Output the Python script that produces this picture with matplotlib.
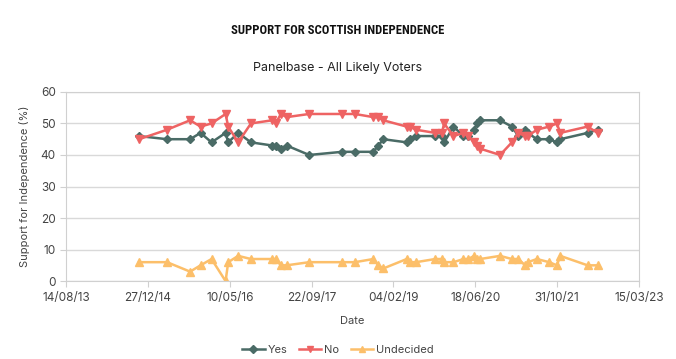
import matplotlib
matplotlib.use("Agg")
import matplotlib.pyplot as plt
import matplotlib.dates as mdates
import pandas as pd

# poll dates (fieldwork end)
dates = ["2014-11-02", "2015-04-22", "2015-09-10", "2015-11-13", "2016-01-19",
         "2016-04-14", "2016-04-30", "2016-06-30", "2016-09-16", "2017-01-24",
         "2017-02-14", "2017-03-18", "2017-04-22", "2017-09-07", "2018-03-28",
         "2018-06-14", "2018-10-04", "2018-11-04", "2018-12-04", "2019-04-26",
         "2019-05-17", "2019-06-22", "2019-10-17", "2019-11-27", "2019-12-11",
         "2020-02-06", "2020-04-07", "2020-05-07", "2020-06-11", "2020-07-01",
         "2020-07-18", "2020-11-17", "2021-01-28", "2021-03-09", "2021-04-19",
         "2021-05-05", "2021-06-30", "2021-09-13", "2021-10-30", "2021-11-20",
         "2022-05-06", "2022-07-06"]
yes = [46, 45, 45, 47, 44, 47, 44, 47, 44, 43, 43, 42, 43, 40, 41, 41, 41, 43, 45, 44,
       45, 46, 46, 46, 44, 49, 46, 46, 48, 50, 51, 51, 49, 46, 48, 47, 45, 45, 44, 45,
       47, 48]
no = [45, 48, 51, 49, 50, 53, 49, 44, 50, 51, 50, 53, 52, 53, 53, 53, 52, 52, 51, 49,
      49, 48, 47, 47, 50, 46, 47, 46, 44, 43, 42, 40, 44, 47, 46, 46, 48, 49, 50, 47,
      49, 47]
undecided = [6, 6, 3, 5, 7, 0, 6, 8, 7, 7, 7, 5, 5, 6, 6, 6, 7, 5, 4, 7,
             6, 6, 7, 7, 6, 6, 7, 7, 8, 7, 7, 8, 7, 7, 5, 6, 7, 6, 5, 8,
             5, 5]

tick_dates = ["2013-08-14", "2014-12-27", "2016-05-10", "2017-09-22",
              "2019-02-04", "2020-06-18", "2021-10-31", "2023-03-15"]

d = pd.to_datetime(dates)
ticks = pd.to_datetime(tick_dates)

plt.rcParams["font.family"] = ["Inter", "DejaVu Sans"]

fig = plt.figure(figsize=(6.76, 3.59), dpi=100)
ax = fig.add_axes([0.098, 0.217, 0.847, 0.527])

c_yes, c_no, c_und = "#4a6b66", "#ee6363", "#fcbf6a"
ax.plot(d, yes, color=c_yes, lw=1.8, marker="D", ms=4.5, label="Yes")
ax.plot(d, no, color=c_no, lw=1.8, marker="v", ms=6, label="No")
ax.plot(d, undecided, color=c_und, lw=1.8, marker="^", ms=6, label="Undecided")

ax.set_xlim(ticks[0], ticks[-1])
ax.set_ylim(0, 60)
ax.set_yticks(range(0, 61, 10))
ax.set_xticks(ticks)
ax.xaxis.set_major_formatter(mdates.DateFormatter("%d/%m/%y"))
ax.grid(axis="y", color="#d9d9d9", lw=1)
ax.set_axisbelow(True)
for s in ax.spines.values():
    s.set_color("#d0d0d0")
ax.tick_params(colors="#d0d0d0", labelcolor="#444444", labelsize=8.5, length=4)

ax.set_xlabel("Date", fontsize=8, color="#444444", labelpad=9)
ax.set_ylabel("Support for Independence (%)", fontsize=8, color="#444444", labelpad=8)

# condensed display title; shrink to the reference width (~213 px) if no narrow face
title = fig.text(0.5, 0.915, "SUPPORT FOR SCOTTISH INDEPENDENCE", ha="center",
                 va="center", fontsize=16, fontweight="bold", color="#111111",
                 fontstretch="condensed",
                 family=["Roboto Condensed", "DejaVu Sans Condensed",
                         "Liberation Sans Narrow", "Roboto", "DejaVu Sans"])
r = fig.canvas.get_renderer()
w = title.get_window_extent(r).width
if w > 215:
    title.set_fontsize(16 * 213 / w)

fig.text(0.5, 0.81, "Panelbase - All Likely Voters", ha="center", va="center",
         fontsize=9, color="#222222")

fig.legend(loc="center", bbox_to_anchor=(0.5, 0.025), ncol=3, frameon=False,
           fontsize=8, handlelength=2, handletextpad=0.3, columnspacing=1.0,
           labelcolor="#444444", markerscale=0.8)

fig.savefig("out.png", dpi=100)
